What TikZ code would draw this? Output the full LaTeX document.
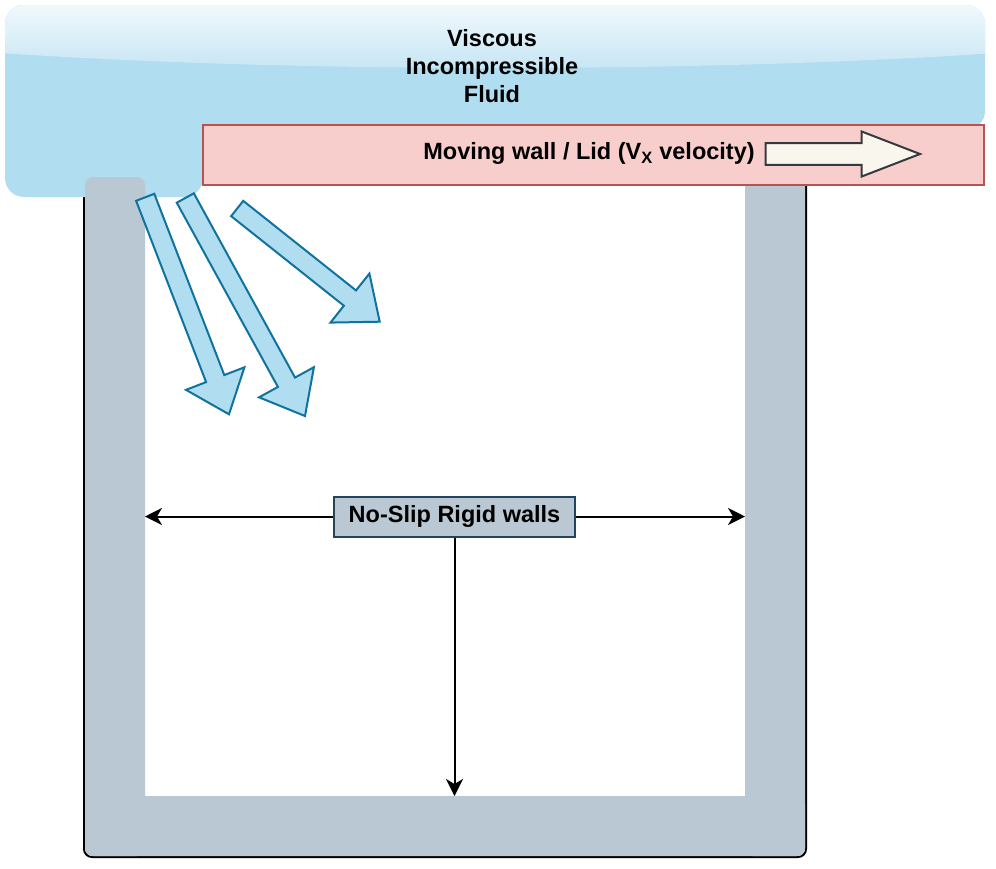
\documentclass[tikz,border=0pt]{standalone}
\usepackage{fontspec}
\setmainfont{Liberation Sans}
\usetikzlibrary{calc,arrows.meta}
\definecolor{fluidc}{HTML}{B1DDF0}
\definecolor{fluidtop}{HTML}{F4FAFD}
\definecolor{fluidmid}{HTML}{C4E5F4}
\definecolor{lidfill}{HTML}{F8CECC}
\definecolor{lidstroke}{HTML}{B85450}
\definecolor{wallc}{HTML}{BAC8D3}
\definecolor{labstroke}{HTML}{23445D}
\definecolor{arrstroke}{HTML}{10739E}
\definecolor{vfill}{HTML}{F9F7ED}
\definecolor{vstroke}{HTML}{36393D}
\newcommand\blockarr[7]{%
  \coordinate (#4) at ($(#3)!#7!(#2)$);
  \draw[#1] ($(#2)!#5!90:(#3)$) -- ($(#4)!#5!90:(#3)$) -- ($(#4)!#6!90:(#3)$) -- (#3)
    -- ($(#4)!#6!-90:(#3)$) -- ($(#4)!#5!-90:(#3)$) -- ($(#2)!#5!-90:(#3)$) -- cycle;
}
\tikzset{
  bigfont/.style={font=\bfseries\fontsize{23.5}{28}\selectfont},
  flowarrow/.style={fill=fluidc, draw=arrstroke, line width=2pt, line join=miter},
  velarrow/.style={fill=vfill, draw=vstroke, line width=2pt, line join=miter},
  conn/.style={line width=2pt, -{Stealth[length=17pt,width=17pt,inset=5pt]}},
  wallfill/.style={fill=wallc},
}
\begin{document}
\begin{tikzpicture}[x=1pt,y=-1pt]
\useasboundingbox (0,0) rectangle (996,868);
% black outer outline of the cavity
\draw[line width=2pt, rounded corners=8pt] (84,177) -- (84,857) -- (806,857) -- (806,177);
% fluid body (wide upper part and left lower part)
\fill[fluidc, rounded corners=19pt] (5,5) rectangle (985,130);
\fill[fluidc, rounded corners=19pt] (5,5) rectangle (203,197);
\begin{scope}
  \clip[rounded corners=19pt] (5,5) rectangle (985,197);
  \shade[top color=fluidtop, bottom color=fluidmid]
    (0,0) -- (996,0) -- (996,53) .. controls (700,73) and (300,73) .. (0,53) -- cycle;
\end{scope}
% walls
\fill[wallfill, rounded corners=8pt] (85,177) rectangle (145,856);
\fill[wallfill, rounded corners=8pt] (745,177) rectangle (805,856);
\fill[wallfill, rounded corners=8pt] (85,796) rectangle (805,856);
% lid
\node[draw=lidstroke, fill=lidfill, line width=2.2pt, minimum width=781pt, minimum height=60pt, inner sep=0pt] (lid) at (593.5,155) {};
\node[bigfont, inner sep=0pt] (lidtxt) at (589,153.5) {Moving wall / Lid (V\textsubscript{X} velocity)};
% velocity arrow
\coordinate (vt) at (765.7,154);
\coordinate (vh) at (920,154);
\blockarr{velarrow}{vt}{vh}{vn}{10.8pt}{22.5pt}{58.3pt}
% fluid text
\node[bigfont, align=center, inner sep=0pt] (fluidtxt) at (492,66) {Viscous\\Incompressible\\Fluid};
% flow arrows
\coordinate (a1t) at (145.2,197.3);
\coordinate (a1h) at (229,414.3);
\coordinate (a2t) at (185.3,198);
\coordinate (a2h) at (305,416);
\coordinate (a3t) at (237.2,208.5);
\coordinate (a3h) at (379.7,321.7);
\blockarr{flowarrow}{a1t}{a1h}{a1n}{9.75pt}{31.3pt}{38.3pt}
\blockarr{flowarrow}{a2t}{a2h}{a2n}{9.75pt}{31.3pt}{38.5pt}
\blockarr{flowarrow}{a3t}{a3h}{a3n}{9.75pt}{31.3pt}{38pt}
% label and connectors
\node[bigfont, draw=labstroke, fill=wallc, line width=2pt, minimum width=241pt, minimum height=40pt, inner sep=0pt] (lab) at (454.5,516.5) {No-Slip Rigid walls};
\coordinate (lw) at (145,516.5);
\coordinate (rw) at (745,516.5);
\coordinate (bw) at (454.5,796);
\draw[conn] (lab.west) -- (lw);
\draw[conn] (lab.east) -- (rw);
\draw[conn] (lab.south) -- (bw);
\end{tikzpicture}
\end{document}
